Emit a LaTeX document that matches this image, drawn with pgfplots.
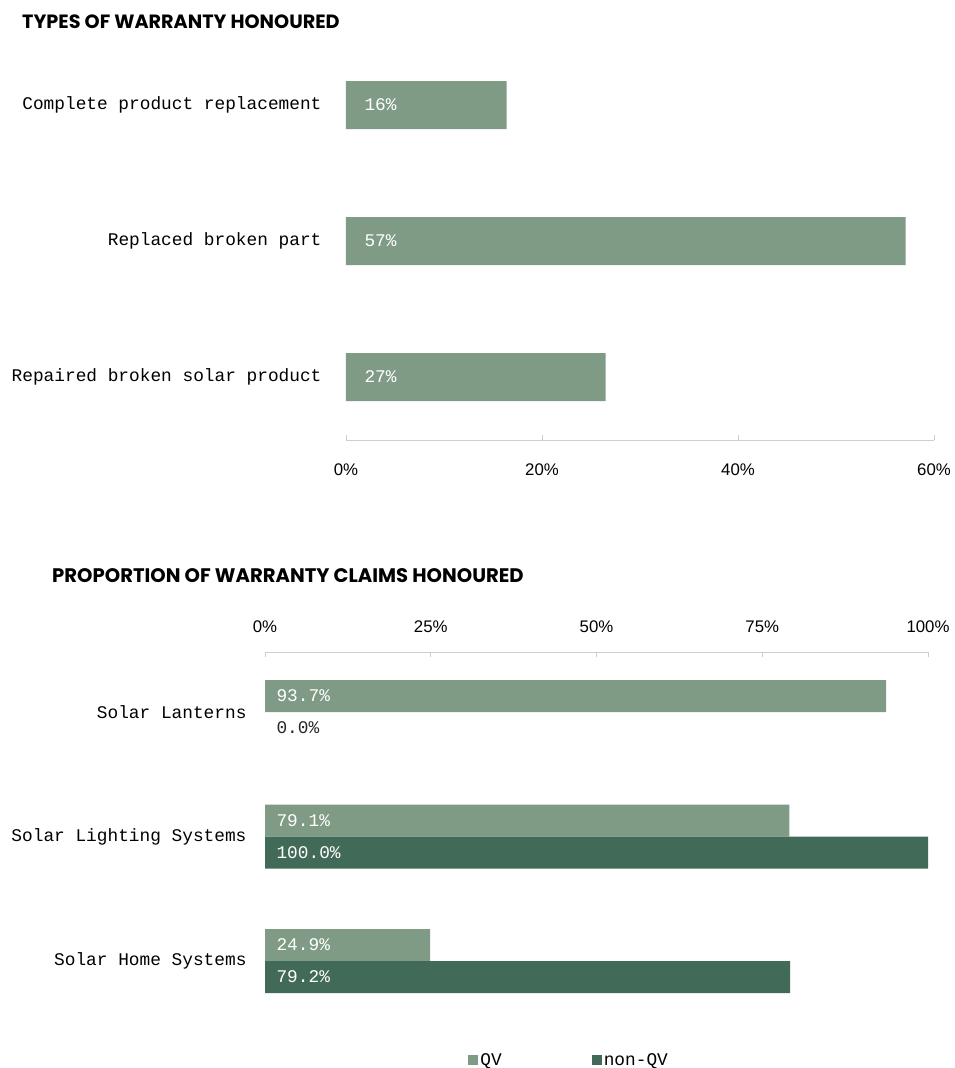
\documentclass[border=0pt]{standalone}
\usepackage{pgfplots}
\pgfplotsset{compat=1.18}
\usepackage{fontspec}
\setmainfont{Liberation Sans}
\newfontfamily\monof{Liberation Mono}
\newfontfamily\titlef{Poppins}
\definecolor{qvc}{HTML}{7F9B86}
\definecolor{nqvc}{HTML}{426A59}
\definecolor{axg}{HTML}{CFCFCF}
\begin{document}
\begin{tikzpicture}
\path[use as bounding box] (0,0) rectangle (954pt,-1068pt);
\node[anchor=west,inner sep=0pt,font=\titlef\bfseries\fontsize{19.2}{21}\selectfont] at (22pt,-22pt) {TYPES OF WARRANTY HONOURED};
\node[anchor=west,inner sep=0pt,font=\titlef\bfseries\fontsize{19.6}{21}\selectfont] at (52pt,-576pt) {PROPORTION OF WARRANTY CLAIMS HONOURED};
% ---------- top chart
\begin{axis}[
  at={(346pt,-440pt)}, anchor=south west,
  x=9.8pt, y=136pt,
  xmin=0, xmax=60, ymin=-0.463, ymax=2.6,
  clip=false,
  axis x line*=bottom, axis y line*=left,
  x axis line style={axg,-,line width=0.8pt},
  y axis line style={draw=none},
  xtick={0,20,40,60},
  xticklabel={\pgfmathprintnumber{\tick}\%},
  xtick style={axg,line width=0.8pt},
  major tick length=5pt, tick align=inside,
  ytick={0,1,2},
  yticklabels={Repaired broken solar product,Replaced broken part,Complete product replacement},
  ytick style={draw=none},
  yticklabel style={font=\monof\fontsize{17.8}{19}\selectfont,xshift=-16pt},
  xticklabel style={font=\fontsize{16.8}{18}\selectfont,yshift=-20pt},
  /pgf/number format/assume math mode=true,
  xbar, bar width=48pt,
]
\addplot[qvc, fill=qvc, draw=none, bar shift=0pt] coordinates {(26.5,0) (57.1,1) (16.4,2)};
\addplot[draw=none, fill=none, bar shift=0pt, point meta=explicit symbolic,
  nodes near coords, nodes near coords style={anchor=west, white, xshift=15pt, font=\monof\fontsize{17.8}{19}\selectfont}]
  coordinates {(0,0) [27\%] (0,1) [57\%] (0,2) [16\%]};
\end{axis}
% ---------- bottom chart
\begin{axis}[
  at={(265pt,-1023.25pt)}, anchor=south west,
  x=6.63pt, y=124.5pt,
  xmin=0, xmax=100, ymin=-0.5, ymax=2.482,
  clip=false,
  axis x line*=top, axis y line*=left,
  x axis line style={axg,-,line width=0.8pt},
  y axis line style={draw=none},
  xtick={0,25,50,75,100},
  xticklabel={\pgfmathprintnumber{\tick}\%},
  xtick style={axg,line width=0.8pt},
  major tick length=5pt, tick align=inside,
  ytick={0,1,2},
  yticklabels={Solar Home Systems,Solar Lighting Systems,Solar Lanterns},
  ytick style={draw=none},
  yticklabel style={font=\monof\fontsize{17.8}{19}\selectfont,xshift=-10pt},
  xticklabel style={font=\fontsize{16.8}{18}\selectfont,yshift=16pt},
  /pgf/number format/assume math mode=true,
  xbar, bar width=32pt,
  legend style={at={(axis cs:30.2,-0.797)}, anchor=west, draw=none, fill=none,
     font=\monof\fontsize{17.8}{19}\selectfont, legend columns=2,
     /tikz/every even column/.append style={column sep=88pt}},
  legend image code/.code={\fill[#1] (0pt,-5pt) rectangle (10pt,5pt);},
]
\addplot[qvc, fill=qvc, draw=none, bar shift=16pt] coordinates {(24.9,0) (79.1,1) (93.7,2)};
\addlegendentry{QV}
\addplot[nqvc, fill=nqvc, draw=none, bar shift=-16pt] coordinates {(79.2,0) (100.0,1)};
\addlegendentry{non-QV}
\addplot[draw=none, fill=none, bar shift=16pt, point meta=explicit symbolic, forget plot,
  nodes near coords, nodes near coords style={anchor=west, white, xshift=8pt, font=\monof\fontsize{17.8}{19}\selectfont}]
  coordinates {(0,0) [24.9\%] (0,1) [79.1\%] (0,2) [93.7\%]};
\addplot[draw=none, fill=none, bar shift=-16pt, point meta=explicit symbolic, forget plot,
  nodes near coords, nodes near coords style={anchor=west, white, xshift=8pt, font=\monof\fontsize{17.8}{19}\selectfont}]
  coordinates {(0,0) [79.2\%] (0,1) [100.0\%]};
\addplot[draw=none, fill=none, bar shift=-16pt, point meta=explicit symbolic, forget plot,
  nodes near coords, nodes near coords style={anchor=west, black!85, xshift=8pt, font=\monof\fontsize{17.8}{19}\selectfont}]
  coordinates {(0,2) [0.0\%]};
\end{axis}
\end{tikzpicture}
\end{document}
